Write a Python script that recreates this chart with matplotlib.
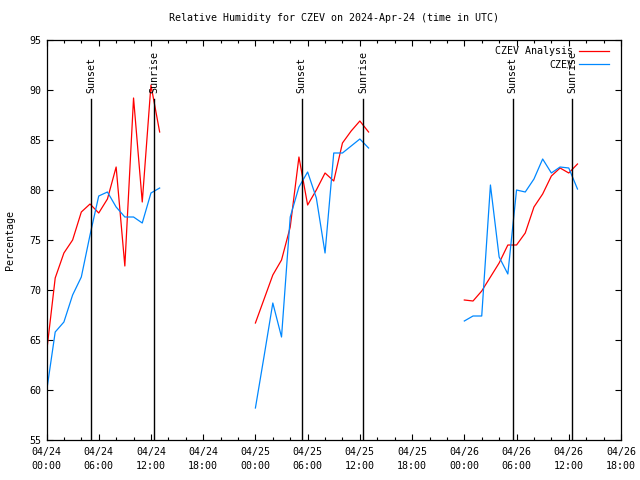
import matplotlib
matplotlib.use("Agg")
import matplotlib.pyplot as plt
from matplotlib.ticker import MultipleLocator
import numpy as np

# hours since 2024-04-24 00:00 UTC
hours_1 = list(range(0, 14))
hours_2 = list(range(24, 38))
hours_3 = list(range(48, 62))

analysis_1 = [63.7, 71.2, 73.7, 75.0, 77.8, 78.6, 77.7, 79.1, 82.3, 72.4, 89.2, 78.8, 90.5, 85.8]
analysis_2 = [66.7, 69.1, 71.5, 73.0, 76.3, 83.3, 78.5, 80.0, 81.7, 80.9, 84.7, 85.9, 86.9, 85.8]
analysis_3 = [69.0, 68.9, 69.9, 71.3, 72.7, 74.5, 74.5, 75.7, 78.3, 79.6, 81.4, 82.2, 81.7, 82.6]

obs_1 = [59.8, 65.8, 66.8, 69.5, 71.3, 75.5, 79.4, 79.8, 78.3, 77.3, 77.3, 76.7, 79.7, 80.2]
obs_2 = [58.2, 63.4, 68.7, 65.3, 77.3, 80.3, 81.8, 79.2, 73.7, 83.7, 83.7, 84.4, 85.1, 84.2]
obs_3 = [66.9, 67.4, 67.4, 80.5, 73.3, 71.6, 80.0, 79.8, 81.1, 83.1, 81.7, 82.3, 82.2, 80.1]

sunset_hours = [5.1, 29.3, 53.55]
sunrise_hours = [12.4, 36.4, 60.4]

xtick_hours = list(range(0, 67, 6))
xtick_labels = ["04/24\n00:00", "04/24\n06:00", "04/24\n12:00", "04/24\n18:00",
                "04/25\n00:00", "04/25\n06:00", "04/25\n12:00", "04/25\n18:00",
                "04/26\n00:00", "04/26\n06:00", "04/26\n12:00", "04/26\n18:00"]
yticks = [55, 60, 65, 70, 75, 80, 85, 90, 95]

plt.rcParams['font.family'] = ['DejaVu Sans Mono']
plt.rcParams['font.size'] = 7.2

fig = plt.figure(figsize=(6.4, 4.8), dpi=100)
ax = fig.add_axes([46.5/640, 1-440/480, (621-46.5)/640, 400/480])

red = '#ff0000'
blue = '#0088ff'
lw = 0.9
for i, (h, a, o) in enumerate([(hours_1, analysis_1, obs_1), (hours_2, analysis_2, obs_2), (hours_3, analysis_3, obs_3)]):
    ax.plot(h, a, color=red, lw=lw, label='CZEV Analysis' if i == 0 else None)
    ax.plot(h, o, color=blue, lw=lw, label='CZEV' if i == 0 else None)

for t in sunset_hours:
    ax.plot([t, t], [55, 89.1], color='black', lw=1)
    ax.text(t, 89.7, 'Sunset', rotation=90, ha='center', va='bottom')
for t in sunrise_hours:
    ax.plot([t, t], [55, 89.1], color='black', lw=1)
    ax.text(t, 89.7, 'Sunrise', rotation=90, ha='center', va='bottom')

ax.set_xlim(0, 66)
ax.set_ylim(55, 95)
ax.set_xticks(xtick_hours)
ax.set_xticklabels(xtick_labels, linespacing=1.45)
ax.xaxis.set_minor_locator(MultipleLocator(2))
ax.set_yticks(yticks)
ax.tick_params(which='both', direction='in', top=True, right=True, width=0.8)
ax.tick_params(which='major', length=4.5, pad=5)
ax.tick_params(which='minor', length=2.3)
ax.tick_params(axis='y', pad=4)
for s in ax.spines.values():
    s.set_linewidth(0.9)

ax.set_ylabel('Percentage', labelpad=10)
ax.set_title('Relative Humidity for CZEV on 2024-Apr-24 (time in UTC)', fontsize=7.2, pad=14)

leg = ax.legend(loc='upper right', bbox_to_anchor=(1 - 0.0139, 1 - 0.006),
                frameon=False, markerfirst=False,
                handlelength=3.0, borderaxespad=0.2, labelspacing=0.35,
                handletextpad=0.6, borderpad=0.2)

fig.savefig('out.png', dpi=100)
